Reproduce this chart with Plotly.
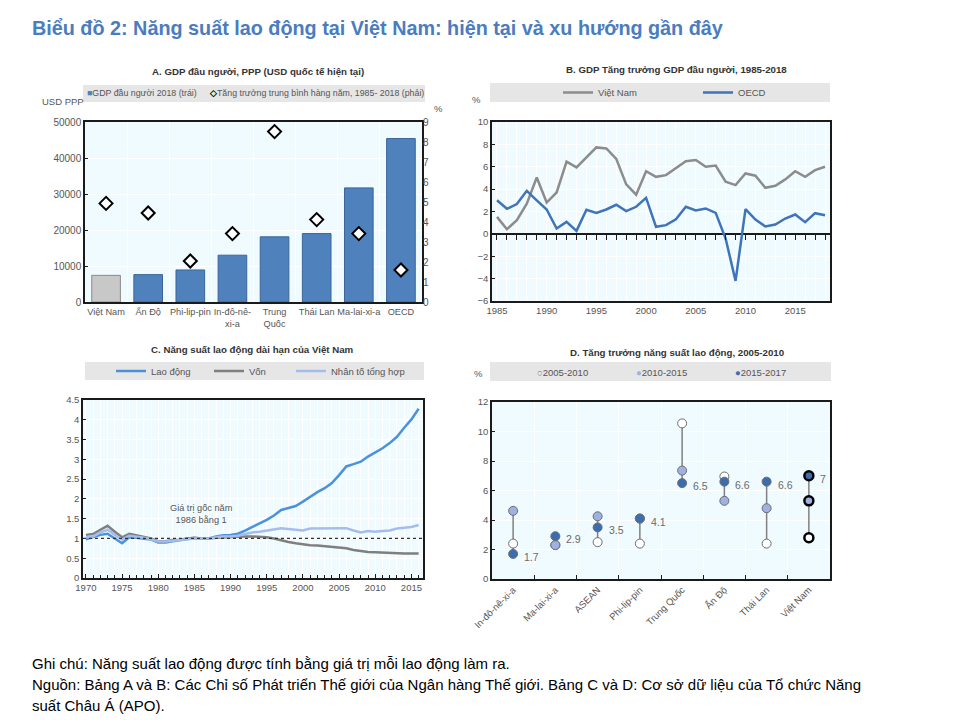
import plotly.graph_objects as go

W, H = 962, 720
FONT = "Liberation Sans, Arial, sans-serif"
TICK = "#555555"
PLOTBG = "#EFFBFF"
LEGBG = "#E6E6E6"

# ---------------- Panel A data ----------------
a_countries = ["Việt Nam", "Ấn Độ", "Phi-lip-pin", "In-đô-nê-<br>xi-a", "Trung<br>Quốc",
               "Thái Lan", "Ma-lai-xi-a", "OECD"]
a_gdp_2018 = [7400, 7600, 8900, 13000, 18100, 19000, 31700, 45400]
a_growth_1985_2018 = [4.93, 4.45, 2.05, 3.42, 8.52, 4.12, 3.42, 1.6]

# ---------------- Panel B data ----------------
b_years = list(range(1985, 2019))
b_vietnam = [1.52, 0.42, 1.22, 2.7, 5.04, 2.8, 3.7, 6.45, 5.94, 6.8, 7.73, 7.64, 6.7, 4.42,
             3.5, 5.6, 5.1, 5.25, 5.85, 6.5, 6.6, 6.0, 6.1, 4.66, 4.36, 5.4, 5.2, 4.12, 4.3,
             4.87, 5.6, 5.1, 5.7, 6.0]
b_oecd = [3.0, 2.24, 2.66, 3.85, 3.0, 2.18, 0.48, 1.07, 0.27, 2.15, 1.88, 2.18, 2.6, 2.03,
          2.42, 3.22, 0.63, 0.78, 1.31, 2.42, 2.09, 2.27, 1.88, -0.42, -4.2, 2.21, 1.28,
          0.66, 0.84, 1.37, 1.73, 1.04, 1.85, 1.67]

# ---------------- Panel C data ----------------
c_years = list(range(1970, 2017))
c_labour = [0.98, 1.03, 1.09, 1.12, 1.0, 0.88, 1.03, 1.02, 0.99, 0.97, 0.9, 0.9, 0.93, 0.96,
            0.98, 1.01, 1.0, 1.0, 1.05, 1.08, 1.09, 1.12, 1.2, 1.29, 1.37, 1.47, 1.58, 1.72,
            1.77, 1.82, 1.93, 2.06, 2.17, 2.27, 2.4, 2.6, 2.82, 2.88, 2.94, 3.07, 3.17, 3.28,
            3.41, 3.57, 3.8, 4.01, 4.28]
c_capital = [1.09, 1.11, 1.22, 1.32, 1.17, 1.03, 1.12, 1.08, 1.05, 1.0, 0.93, 0.93, 0.96,
             0.97, 1.0, 1.02, 1.0, 1.0, 1.02, 1.03, 1.03, 1.04, 1.05, 1.05, 1.04, 1.03, 1.0,
             0.95, 0.91, 0.88, 0.85, 0.83, 0.82, 0.8, 0.78, 0.77, 0.75, 0.71, 0.68, 0.66,
             0.65, 0.64, 0.63, 0.62, 0.62, 0.62, 0.62]
c_tfp = [1.03, 1.05, 1.15, 1.22, 1.09, 0.97, 1.07, 1.05, 1.02, 0.98, 0.92, 0.92, 0.94, 0.97,
         0.98, 1.0, 1.0, 1.0, 1.03, 1.05, 1.05, 1.07, 1.11, 1.15, 1.17, 1.2, 1.24, 1.26,
         1.24, 1.22, 1.2, 1.25, 1.25, 1.26, 1.26, 1.26, 1.26, 1.2, 1.15, 1.19, 1.17, 1.19,
         1.2, 1.25, 1.27, 1.29, 1.34]
c_base_value = 1

# ---------------- Panel D data ----------------
d_countries = ["In-đô-nê-xi-a", "Ma-lai-xi-a", "ASEAN", "Phi-lip-pin", "Trung Quốc",
               "Ấn Độ", "Thái Lan", "Việt Nam"]
d_2005_2010 = [2.4, 2.3, 2.5, 2.4, 10.55, 6.95, 2.4, 2.8]
d_2010_2015 = [4.62, 2.3, 4.25, 4.1, 7.35, 5.3, 4.8, 5.3]
d_2015_2017 = [1.7, 2.9, 3.5, 4.1, 6.5, 6.6, 6.6, 7.0]


def px(x):
    return x / W


def py(y):
    return 1 - y / H


fig = go.Figure()

# ---------- Panel A ----------
a_x = list(range(len(a_countries)))
fig.add_trace(go.Bar(
    x=a_x, y=a_gdp_2018, xaxis="x", yaxis="y", width=0.68,
    marker=dict(color=["#C8C8C8"] + ["#4F81BD"] * (len(a_x) - 1),
                line=dict(color=["#8A8A8A"] + ["#3A659A"] * (len(a_x) - 1), width=1)),
    name="GDP đầu người 2018 (trái)", showlegend=False))
fig.add_trace(go.Scatter(
    x=a_x, y=a_growth_1985_2018, xaxis="x", yaxis="y2", mode="markers",
    marker=dict(symbol="diamond", size=10, color="white", line=dict(color="black", width=2)),
    name="Tăng trưởng trung bình hàng năm, 1985- 2018 (phải)", showlegend=False))

# ---------- Panel B ----------
fig.add_trace(go.Scatter(x=b_years, y=b_vietnam, xaxis="x2", yaxis="y3", mode="lines",
                         line=dict(color="#8C8C8C", width=2.5), name="Việt Nam",
                         legend="legend"))
fig.add_trace(go.Scatter(x=b_years, y=b_oecd, xaxis="x2", yaxis="y3", mode="lines",
                         line=dict(color="#3F73BA", width=2.5), name="OECD",
                         legend="legend"))
# invisible helper so the zero-line tick axis is drawn
fig.add_trace(go.Scatter(x=[b_years[0]], y=[0], xaxis="x5", yaxis="y3", mode="markers",
                         marker=dict(opacity=0), showlegend=False, hoverinfo="skip"))

# ---------- Panel C ----------
fig.add_trace(go.Scatter(x=c_years, y=c_labour, xaxis="x3", yaxis="y4", mode="lines",
                         line=dict(color="#4A92DC", width=2.5), name="Lao động",
                         legend="legend2"))
fig.add_trace(go.Scatter(x=c_years, y=c_capital, xaxis="x3", yaxis="y4", mode="lines",
                         line=dict(color="#7F7F7F", width=2.5), name="Vốn",
                         legend="legend3"))
fig.add_trace(go.Scatter(x=c_years, y=c_tfp, xaxis="x3", yaxis="y4", mode="lines",
                         line=dict(color="#A5BDEE", width=2.5), name="Nhân tố tổng hợp",
                         legend="legend4"))

# ---------- Panel D ----------
d_x = list(range(len(d_countries)))
seg_x, seg_y = [], []
for i in d_x:
    vals = [d_2005_2010[i], d_2010_2015[i], d_2015_2017[i]]
    seg_x += [i, i, None]
    seg_y += [min(vals), max(vals), None]
fig.add_trace(go.Scatter(x=seg_x, y=seg_y, xaxis="x4", yaxis="y5", mode="lines",
                         line=dict(color="#808080", width=1.5), showlegend=False,
                         hoverinfo="skip"))
vn_idx = d_countries.index("Việt Nam")
outline_c = ["#000000" if i == vn_idx else "#6E6E6E" for i in d_x]
outline_w = [2.5 if i == vn_idx else 1 for i in d_x]
for vals, col, nm in [(d_2005_2010, "#FFFFFF", "2005-2010"),
                      (d_2010_2015, "#9DB1E2", "2010-2015"),
                      (d_2015_2017, "#3C6DB0", "2015-2017")]:
    fig.add_trace(go.Scatter(x=d_x, y=vals, xaxis="x4", yaxis="y5", mode="markers",
                             marker=dict(size=9, color=col,
                                         line=dict(color=outline_c, width=outline_w)),
                             name=nm, showlegend=False))

annotations = []
for i in d_x:
    annotations.append(dict(x=i, y=d_2015_2017[i], xref="x4", yref="y5",
                            text=f"{d_2015_2017[i]:g}", showarrow=False, xanchor="left",
                            xshift=9, yshift=-3, font=dict(size=10.5, color="#6A6A6A")))

# ---------- Layout: domains ----------
A_X = [px(85), px(422)]
A_Y = [py(302), py(122)]
B_X = [px(492), px(830)]
B_Y = [py(301), py(122)]
C_X = [px(83), px(423)]
C_Y = [py(578), py(400)]
D_X = [px(492), px(830)]
D_Y = [py(579), py(402)]

frame = dict(showline=True, mirror=True, linecolor="#1A1A1A", linewidth=1.5)
tickf = dict(size=10, color=TICK, family=FONT)
tickf_s = dict(size=9.5, color=TICK, family=FONT)

b_zero_pos = B_Y[0] + (0 - (-6)) / 16 * (B_Y[1] - B_Y[0])


def leg(x, y):
    return dict(x=px(x), y=py(y), xanchor="left", yanchor="middle", orientation="h",
                bgcolor="rgba(0,0,0,0)", font=dict(size=9.5, color="#555555", family=FONT),
                itemclick=False)


legend_b = leg(558, 92.5)
legend_b.update(entrywidth=95, entrywidthmode="pixels")

fig.update_layout(
    width=W, height=H, margin=dict(l=0, r=0, t=0, b=0, autoexpand=False),
    paper_bgcolor="white", plot_bgcolor=PLOTBG,
    font=dict(family=FONT, size=11, color="#333333"),
    xaxis=dict(domain=A_X, anchor="y", range=[-0.5, 7.5], tickvals=a_x, ticktext=a_countries,
               tickangle=0, showgrid=False, zeroline=False, ticks="",
               tickfont=dict(size=9.2, color=TICK, family=FONT),
               minor=dict(tickvals=[i + 0.5 for i in a_x[:-1]], showgrid=True,
                          gridcolor="white", gridwidth=1, ticks=""), **frame),
    yaxis=dict(domain=A_Y, anchor="x", range=[0, 50000], dtick=10000, tickformat="d",
               showgrid=True, gridcolor="white", zeroline=False, ticks="inside", ticklen=3,
               tickcolor="#1A1A1A", tickfont=tickf, **frame),
    yaxis2=dict(overlaying="y", anchor="x", side="right", range=[0, 9], dtick=1,
                showgrid=False, zeroline=False, tickfont=tickf, showline=False),
    xaxis2=dict(domain=B_X, anchor="y3", range=[1984.5, 2018.5],
                tickvals=[1985, 1990, 1995, 2000, 2005, 2010, 2015],
                showgrid=False, zeroline=False, ticks="", tickfont=tickf_s,
                minor=dict(dtick=1, tick0=1985, showgrid=True, gridcolor="white", ticks=""),
                **frame),
    xaxis5=dict(overlaying="x2", anchor="free", position=b_zero_pos, side="bottom",
                range=[1984.5, 2018.5], dtick=1, tick0=1985, ticks="outside", ticklen=5,
                tickcolor="#1A1A1A", tickwidth=1, showticklabels=False, showgrid=False,
                zeroline=False, showline=False),
    yaxis3=dict(domain=B_Y, anchor="x2", range=[-6, 10], dtick=2, showgrid=True,
                gridcolor="white", zeroline=True, zerolinecolor="#1A1A1A", zerolinewidth=1.5,
                ticks="inside", ticklen=3, tickcolor="#1A1A1A", tickfont=tickf_s, **frame),
    xaxis3=dict(domain=C_X, anchor="y4", range=[1969.6, 2016.6], tick0=1970, dtick=5,
                showgrid=True, gridcolor="white", zeroline=False, ticks="inside", ticklen=4,
                tickcolor="#1A1A1A", tickfont=tickf_s,
                minor=dict(dtick=1, tick0=1970, showgrid=True, gridcolor="white",
                           ticks="inside", ticklen=3, tickcolor="#1A1A1A"),
                **frame),
    yaxis4=dict(domain=C_Y, anchor="x3", range=[0, 4.5], dtick=0.5, showgrid=True,
                gridcolor="white", zeroline=False, ticks="inside", ticklen=3,
                tickcolor="#1A1A1A", tickfont=tickf_s, **frame),
    xaxis4=dict(domain=D_X, anchor="y5", range=[-0.5, 7.5], tickvals=d_x, ticktext=d_countries,
                tickangle=-45, showgrid=False, zeroline=False, ticks="", tickfont=tickf_s,
                minor=dict(tickvals=[i + 0.5 for i in d_x[:-1]], showgrid=True,
                           gridcolor="white", ticks="inside", ticklen=4, tickcolor="#1A1A1A"),
                **frame),
    yaxis5=dict(domain=D_Y, anchor="x4", range=[0, 12], dtick=2, showgrid=True,
                gridcolor="white", zeroline=False, ticks="inside", ticklen=3,
                tickcolor="#1A1A1A", tickfont=tickf_s, **frame),
    legend=legend_b,
    legend2=leg(111, 371),
    legend3=leg(209, 371),
    legend4=leg(291, 371),
)

shapes = []
# legend background boxes
for (x0, x1, y0, y1) in [(83, 425, 85, 102), (490, 830, 83, 102), (85, 424, 362, 380),
                         (490, 831, 362, 381)]:
    shapes.append(dict(type="rect", xref="paper", yref="paper", x0=px(x0), x1=px(x1),
                       y0=py(y1), y1=py(y0), fillcolor=LEGBG, line=dict(width=0),
                       layer="below"))
# base value line (1986 = 1) in panel C
shapes.append(dict(type="line", xref="x3 domain", yref="y4", x0=0, x1=1, y0=c_base_value,
                   y1=c_base_value, line=dict(color="#333333", width=1.2, dash="dot")))
fig.update_layout(shapes=shapes)


def note(x, y, text, size=10.5, color="#555555", anchor="left", bold=False, valign="middle"):
    t = f"<b>{text}</b>" if bold else text
    return dict(x=px(x), y=py(y), xref="paper", yref="paper", text=t, showarrow=False,
                xanchor=anchor, yanchor=valign, font=dict(size=size, color=color, family=FONT))


annotations += [
    note(30, 28, "Biểu đồ 2: Năng suất lao động tại Việt Nam: hiện tại và xu hướng gần đây",
         size=19.8, color="#4A7CBF", bold=True),
    note(258, 72, "A. GDP đầu người, PPP (USD quốc tế hiện tại)", size=9.7, color="#333333",
         anchor="center", bold=True),
    note(676, 70, "B. GDP Tăng trưởng GDP đầu người, 1985-2018", size=9.7, color="#333333",
         anchor="center", bold=True),
    note(252, 349, "C. Năng suất lao động dài hạn của Việt Nam", size=9.7, color="#333333",
         anchor="center", bold=True),
    note(677, 352, "D. Tăng trưởng năng suất lao động, 2005-2010", size=9.7, color="#333333",
         anchor="center", bold=True),
    note(40, 102, "USD PPP", size=9.5, color=TICK),
    note(432, 108, "%", size=9.5, color=TICK),
    note(470, 100, "%", size=9.5, color=TICK),
    note(472, 373, "%", size=9.5, color=TICK),
    # panel A legend (manual)
    note(85, 93.5, "<span style='color:#4F81BD'>■</span>GDP đầu người 2018 (trái)", size=8.8,
         color="#555555"),
    note(207, 93.5, "<span style='color:#000000'><b>◇</b></span>Tăng trưởng trung bình hàng năm, 1985- 2018 (phải)",
         size=8.8, color="#555555"),
    # panel D legend (manual)
    note(535, 372, "<span style='color:#777777'>○</span>2005-2010", size=9.5, color="#555555"),
    note(634, 372, "<span style='color:#9DB1E2'>●</span>2010-2015", size=9.5, color="#555555"),
    note(733, 372, "<span style='color:#3C6DB0'>●</span>2015-2017", size=9.5, color="#555555"),
    # footer
    note(30, 663, "Ghi chú: Năng suất lao động được tính bằng giá trị mỗi lao động làm ra.",
         size=15, color="#000000"),
    note(30, 684, "Nguồn: Bảng A và B: Các Chỉ số Phát triển Thế giới của Ngân hàng Thế giới. Bảng C và D: Cơ sở dữ liệu của Tổ chức Năng",
         size=15, color="#000000"),
    note(30, 705, "suất Châu Á (APO).", size=15, color="#000000"),
    dict(x=1986, y=1.62, xref="x3", yref="y4", text="Giá trị gốc năm<br>1986 bằng 1",
         showarrow=False, font=dict(size=9.2, color="#555555", family=FONT)),
]
fig.update_layout(annotations=annotations)

fig.write_html("out.html")
